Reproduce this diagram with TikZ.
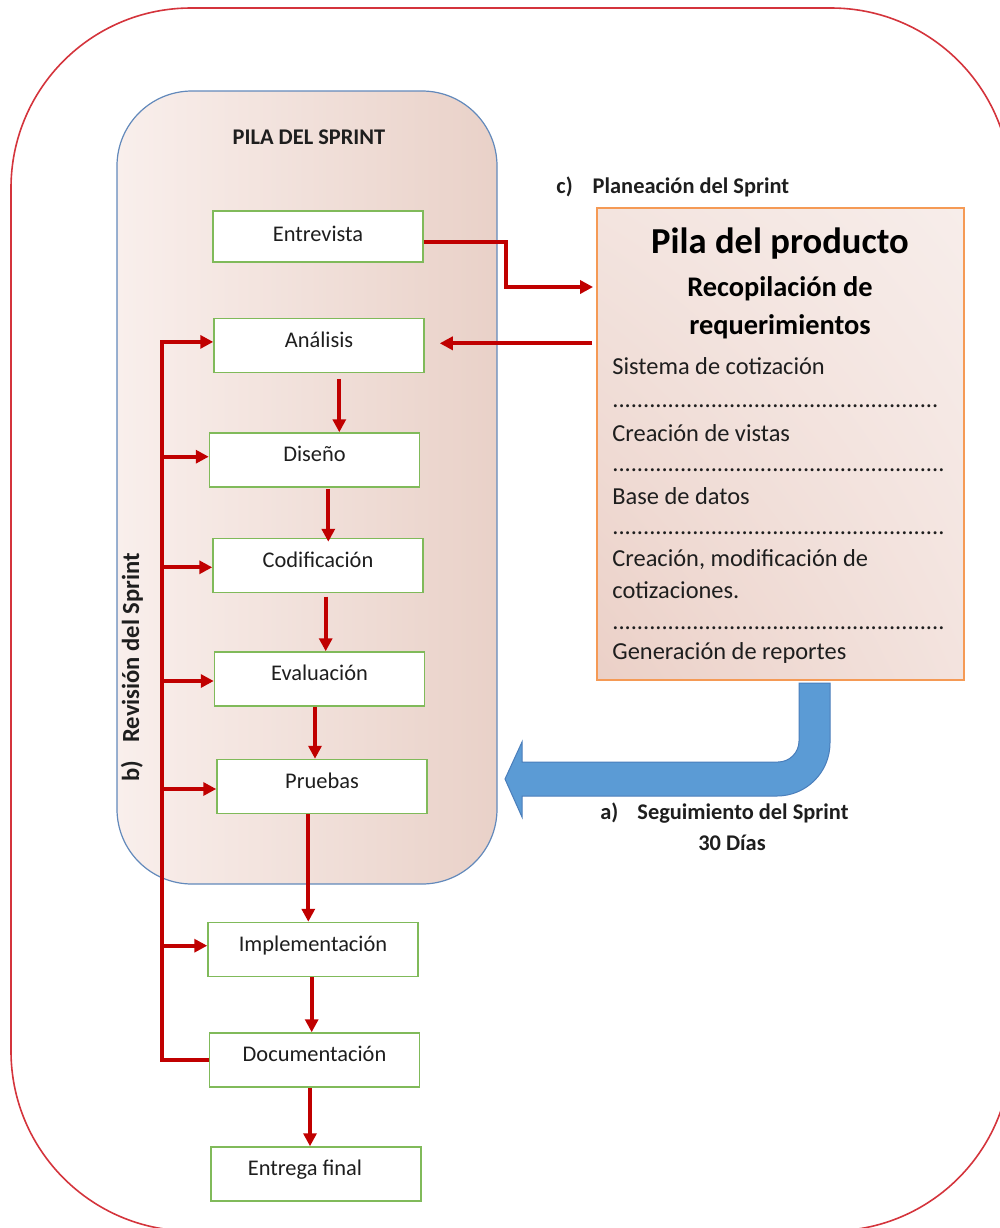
\documentclass[tikz,border=0pt]{standalone}
\usepackage{fontspec}
\setmainfont{Carlito}
\usetikzlibrary{arrows.meta,shadings}

\definecolor{framered}{HTML}{D4343C}
\definecolor{panelblue}{HTML}{6289BB}
\definecolor{panelL}{HTML}{F9EFEC}
\definecolor{panelR}{HTML}{E9D1C8}
\definecolor{boxgreen}{HTML}{80BA5A}
\definecolor{arrowred}{HTML}{C00000}
\definecolor{prodorange}{HTML}{F59A55}
\definecolor{prodUL}{HTML}{F3E4DF}
\definecolor{prodUR}{HTML}{F7EDEA}
\definecolor{prodLL}{HTML}{EBD0C7}
\definecolor{prodLR}{HTML}{F3E3DE}
\definecolor{bendfill}{HTML}{5B9BD5}
\definecolor{bendline}{HTML}{4A7EBB}
\definecolor{ink}{HTML}{1E1E1E}

\newcommand\dotrun[1]{\foreach \k in {1,...,#1}{.}}

\begin{document}
\begin{tikzpicture}[x=0.5pt,y=-0.5pt,
  stage/.style={draw=boxgreen, line width=0.75pt, fill=white,
    minimum width=105pt, minimum height=27pt, inner sep=0pt,
    font=\fontsize{11.2}{13}\selectfont, text=ink,
    text height=8pt, text depth=6.3pt},
  flow/.style={draw=arrowred, line width=2pt},
  arrow/.style={flow, -{Triangle[length=6.5pt,width=6.5pt]}},
  lbl/.style={font=\fontsize{11.2}{13}\selectfont\bfseries, text=ink, inner sep=0pt},
  item/.style={font=\fontsize{12.2}{14}\selectfont, text=ink, inner sep=0pt, anchor=base west},
]
\useasboundingbox (0,0) rectangle (1000,1228);

% outer frame
\draw[framered, line width=0.8pt, rounded corners=90pt] (11,8) rectangle (1011,1231);

% sprint backlog panel
\node[draw=panelblue, line width=0.6pt, left color=panelL, right color=panelR,
      rounded corners=37.5pt, minimum width=190pt, minimum height=396.5pt,
      inner sep=0pt] (panel) at (307,487.5) {};
\node[lbl] (paneltitle) at (309,137) {PILA DEL SPRINT};

% product backlog box
\node[draw=prodorange, line width=0.9pt, minimum width=183.5pt, minimum height=236pt,
      inner sep=0pt, upper left=prodUL, upper right=prodUR,
      lower left=prodLL, lower right=prodLR] (prod) at (780.5,444) {};
\node[font=\fontsize{18.3}{20}\selectfont\bfseries, text=black, inner sep=0pt, anchor=base]
  (prodtitle) at (780,253) {Pila del producto};
\node[font=\fontsize{14.2}{16}\selectfont\bfseries, text=black, inner sep=0pt, anchor=base]
  (reqA) at (780,296.5) {Recopilación de};
\node[font=\fontsize{14.2}{16}\selectfont\bfseries, text=black, inner sep=0pt, anchor=base]
  (reqB) at (780,334.5) {requerimientos};
\node[item] (i1) at (612,374) {Sistema de cotización};
\node[item] (d1) at (612,407) {\dotrun{53}};
\node[item] (i2) at (612,441) {Creación de vistas};
\node[item] (d2) at (612,471) {\dotrun{54}};
\node[item] (i3) at (612,504) {Base de datos};
\node[item] (d3) at (612,534) {\dotrun{54}};
\node[item] (i4) at (612,566) {Creación, modificación de};
\node[item] (i5) at (612,598.5) {cotizaciones.};
\node[item] (d4) at (612,629) {\dotrun{54}};
\node[item] (i6) at (612,659) {Generación de reportes};

% labels
\node[lbl, anchor=west] (plan) at (556,187) {c)\hspace{10pt}Planeación del Sprint};
\node[lbl, anchor=west] (follow) at (600,813) {a)\hspace{9.5pt}Seguimiento del Sprint};
\node[lbl] (days) at (732,843) {30 Días};
\node[lbl, font=\fontsize{12.3}{14}\selectfont\bfseries, anchor=west, rotate=90]
  (review) at (132,782) {b)\hspace{9pt}Revisión del Sprint};

% stages
\node[stage, minimum height=25.5pt, text height=7pt, text depth=2pt] (ent) at (318,236.5) {Entrevista};
\node[stage] (ana) at (319,345.5) {Análisis};
\node[stage] (dis) at (314.5,460) {Diseño};
\node[stage] (cod) at (318,565.5) {Codificación};
\node[stage] (eva) at (319.5,679) {Evaluación};
\node[stage] (pru) at (322,786.5) {Pruebas};
\node[stage] (imp) at (313,949.5) {Implementación};
\node[stage] (doc) at (314.5,1060) {Documentación};
\node[stage] (fin) at (316,1174) {Entrega final\hspace*{11pt}};

% sprint follow-up bent arrow
\path[fill=bendfill, draw=bendline, line width=0.5pt]
  (799,683) -- (799,741) .. controls (799,752.6) and (789.6,762) .. (778,762)
  -- (522,762) -- (522,742) -- (505,779) -- (522,817) -- (522,796)
  -- (777,796) .. controls (806.3,796) and (830,772.3) .. (830,743)
  -- (830,683) -- cycle;

% interview to product backlog
\coordinate (eOut) at ([yshift=-2.75pt]ent.east);
\coordinate (pIn) at ([yshift=78.5pt]prod.west);
\draw[arrow, shorten >=1.5pt] (eOut) -- ++(41pt,0) |- (pIn);

% product backlog back to analysis
\coordinate (aBack) at ([xshift=7.5pt,yshift=1.1pt]ana.east);
\draw[arrow] ([xshift=-2pt]prod.west |- aBack) -- (aBack);

% main flow
\draw[arrow, shorten <=2.8pt] ([xshift=10.15pt]ana.south) -- ([xshift=10.15pt]ana.south |- dis.north);
\draw[arrow, shorten <=0.5pt, shorten >=-2pt] ([xshift=6.9pt]dis.south) -- ([xshift=6.9pt]dis.south |- cod.north);
\draw[arrow, shorten <=1.7pt] ([xshift=3.85pt]cod.south) -- ([xshift=3.85pt]cod.south |- eva.north);
\draw[arrow] ([xshift=-2.25pt]eva.south) -- ([xshift=-2.25pt]eva.south |- pru.north);
\draw[arrow] ([xshift=-6.85pt]pru.south) -- ([xshift=-6.85pt]pru.south |- imp.north);
\draw[arrow] ([xshift=-0.65pt]imp.south) -- ([xshift=-0.65pt]imp.south |- doc.north);
\draw[arrow] ([xshift=-2.25pt]doc.south) -- ([xshift=-2.25pt]doc.south |- fin.north);

% review feedback loop
\coordinate (trunk) at (162,0);
\coordinate (aIn) at ([yshift=1.8pt]ana.west);
\draw[arrow] (doc.west) -| (trunk |- aIn) -- (aIn);
\coordinate (dIn) at ([yshift=1.65pt]dis.west);
\draw[arrow] (trunk |- dIn) -- (dIn);
\coordinate (cIn) at ([yshift=-0.9pt]cod.west);
\draw[arrow] (trunk |- cIn) -- (cIn);
\coordinate (vIn) at ([yshift=-1pt]eva.west);
\draw[arrow] (trunk |- vIn) -- (vIn);
\coordinate (rIn) at ([yshift=-1.25pt]pru.west);
\draw[arrow] (trunk |- rIn) -- (rIn);
\coordinate (mIn) at ([yshift=1.9pt]imp.west);
\draw[arrow] (trunk |- mIn) -- (mIn);
\end{tikzpicture}
\end{document}
